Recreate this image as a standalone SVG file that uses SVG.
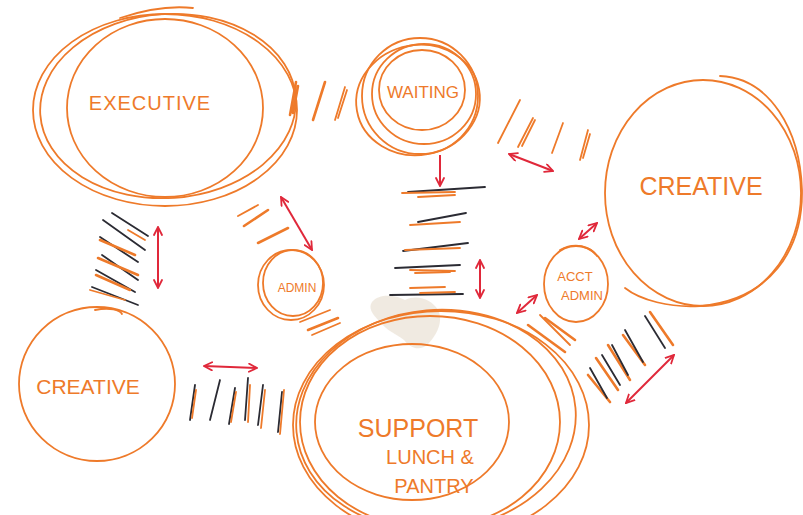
<svg xmlns="http://www.w3.org/2000/svg" width="803" height="515" viewBox="0 0 803 515">
<style>
.o{fill:none;stroke:#ee7a2a;stroke-width:1.8;stroke-linecap:round}
.ot{fill:none;stroke:#ee7a2a;stroke-width:2.6;stroke-linecap:round}
.k{fill:none;stroke:#2b2b33;stroke-width:1.8;stroke-linecap:round}
.ra{fill:none;stroke:#e0283a;stroke-width:2;marker-start:url(#ah);marker-end:url(#ah)}
.re{fill:none;stroke:#e0283a;stroke-width:2;marker-end:url(#ah)}
.t{fill:#ee7a2a;font-family:"Liberation Sans",Arial,sans-serif;text-anchor:middle}
</style>
<defs>
<marker id="ah" viewBox="0 0 10 10" refX="9" refY="5" markerWidth="5" markerHeight="5" orient="auto-start-reverse" markerUnits="strokeWidth">
<path d="M1,1 L9,5 L1,9" fill="none" stroke="#e0283a" stroke-width="1.8" stroke-linecap="round"/>
</marker>
</defs>
<rect width="803" height="515" fill="#ffffff"/>
<path d="M372,302 C380,292 398,296 405,300 C418,294 432,300 438,310 C444,322 436,336 428,344 C420,352 410,348 404,340 C396,334 386,330 380,322 C372,314 368,308 372,302 Z" fill="#e3d9c9" opacity="0.55"/>

<g id="executive">
<ellipse class="o" cx="165" cy="108" rx="98" ry="89"/>
<ellipse class="o" cx="165" cy="110" rx="132" ry="96"/>
<ellipse class="o" cx="168" cy="106" rx="128" ry="92" transform="rotate(-4 168 106)"/>
<path class="o" d="M120,18 C150,8 175,6 193,8"/>
<text class="t" x="150" y="110" font-size="20" letter-spacing="1">EXECUTIVE</text>
</g>

<g id="waiting">
<ellipse class="o" cx="422" cy="90" rx="43" ry="40"/>
<ellipse class="o" cx="420" cy="96" rx="58" ry="58"/>
<ellipse class="o" cx="418" cy="100" rx="62" ry="55" transform="rotate(-10 418 100)"/>
<ellipse class="o" cx="424" cy="94" rx="52" ry="50"/>
<text class="t" x="423" y="98" font-size="17">WAITING</text>
</g>

<g id="creative-right">
<ellipse class="o" cx="703" cy="193" rx="98" ry="113"/>
<path class="o" d="M720,76 C770,78 800,130 802,190 C803,250 770,300 700,306 C670,308 640,300 625,288"/>
<text class="t" x="701" y="195" font-size="25">CREATIVE</text>
</g>

<g id="admin">
<ellipse class="o" cx="291" cy="285" rx="33" ry="35"/>
<ellipse class="o" cx="293" cy="283" rx="30" ry="33"/>
<text class="t" x="297" y="292" font-size="12">ADMIN</text>
</g>

<g id="acct-admin">
<ellipse class="o" cx="576" cy="284" rx="32" ry="38"/>
<path class="o" d="M560,250 C575,242 590,246 597,256"/>
<text class="t" x="575" y="281" font-size="13">ACCT</text>
<text class="t" x="582" y="300" font-size="13">ADMIN</text>
</g>

<g id="creative-left">
<ellipse class="o" cx="97" cy="384" rx="78" ry="77"/>
<path class="o" d="M95,310 C110,307 120,310 122,314"/>
<text class="t" x="88" y="394" font-size="21">CREATIVE</text>
</g>

<g id="support">
<ellipse class="o" cx="412" cy="422" rx="97" ry="78"/>
<ellipse class="o" cx="430" cy="422" rx="130" ry="106"/>
<ellipse class="o" cx="441" cy="425" rx="148" ry="114"/>
<ellipse class="o" cx="436" cy="420" rx="140" ry="110" transform="rotate(-5 436 420)"/>
<text class="t" x="418" y="437" font-size="25">SUPPORT</text>
<text class="t" x="430" y="464" font-size="20">LUNCH &amp;</text>
<text class="t" x="434" y="493" font-size="20">PANTRY</text>
</g>

<g id="connectors">
<path class="ot" d="M290,115 L296,82 M293,113 L298,86"/>
<path class="ot" d="M313,120 L325,82"/>
<path class="o" d="M335,120 L345,87 M338,118 L347,90"/>
<path class="o" d="M498,143 L520,100"/>
<path class="o" d="M518,147 L533,118 M522,146 L535,120"/>
<path class="o" d="M552,153 L563,123"/>
<path class="o" d="M580,160 L588,130 M583,158 L590,134"/>
<path class="ra" d="M509,154 L553,171"/>
<path class="re" d="M440,155 L440,186"/>
<path class="k" d="M408,192 L485,187"/>
<path class="o" d="M402,193 L455,192 M418,197 L455,195"/>
<path class="k" d="M418,222 L466,213"/>
<path class="o" d="M410,225 L460,222"/>
<path class="k" d="M403,251 L468,243"/>
<path class="o" d="M405,250 L460,248"/>
<path class="k" d="M395,268 L460,265"/>
<path class="o" d="M410,270 L455,271 M415,273 L450,272"/>
<path class="k" d="M390,295 L463,294"/>
<path class="o" d="M410,288 L445,287 M420,293 L455,292"/>
<path class="ra" d="M480,260 L480,298"/>
<path class="o" d="M238,216 L258,205"/>
<path class="ot" d="M244,226 L268,210"/>
<path class="ot" d="M258,243 L288,228"/>
<path class="ra" d="M281,197 L312,250"/>
<path class="o" d="M300,322 L330,310"/>
<path class="ot" d="M308,330 L338,318"/>
<path class="o" d="M312,335 L340,323"/>
<path class="k" d="M112,213 L148,236"/>
<path class="k" d="M103,220 L145,250"/>
<path class="o" d="M128,230 L145,240"/>
<path class="k" d="M100,237 L138,262"/>
<path class="ot" d="M100,240 L135,255"/>
<path class="k" d="M102,255 L138,280"/>
<path class="ot" d="M98,258 L138,275"/>
<path class="k" d="M96,270 L135,292"/>
<path class="ot" d="M96,275 L130,290"/>
<path class="k" d="M92,287 L138,305"/>
<path class="o" d="M90,290 L125,300"/>
<path class="ra" d="M158,227 L158,288"/>
<path class="ra" d="M204,366 L257,368"/>
<path class="k" d="M190,420 L195,385"/>
<path class="o" d="M192,418 L196,390"/>
<path class="k" d="M210,420 L220,380"/>
<path class="k" d="M229,424 L235,388"/>
<path class="o" d="M231,422 L236,392"/>
<path class="k" d="M245,420 L248,378"/>
<path class="o" d="M248,422 L250,385"/>
<path class="k" d="M258,425 L263,385"/>
<path class="o" d="M261,428 L265,390"/>
<path class="k" d="M278,432 L282,392"/>
<path class="o" d="M280,434 L284,390"/>
<path class="ra" d="M517,313 L537,295"/>
<path class="ra" d="M579,239 L597,223"/>
<path class="ot" d="M528,325 L565,352"/>
<path class="o" d="M540,315 L570,345"/>
<path class="ot" d="M545,318 L575,340"/>
<path class="ot" d="M588,375 L610,402"/>
<path class="k" d="M590,368 L607,398"/>
<path class="ot" d="M596,358 L618,390"/>
<path class="k" d="M602,355 L620,385"/>
<path class="ot" d="M608,345 L630,380"/>
<path class="k" d="M612,345 L628,375"/>
<path class="ot" d="M623,335 L645,365"/>
<path class="k" d="M625,330 L643,362"/>
<path class="k" d="M645,316 L665,348"/>
<path class="ot" d="M650,312 L673,345"/>
<path class="ra" d="M626,403 L674,355"/>
</g>
</svg>
